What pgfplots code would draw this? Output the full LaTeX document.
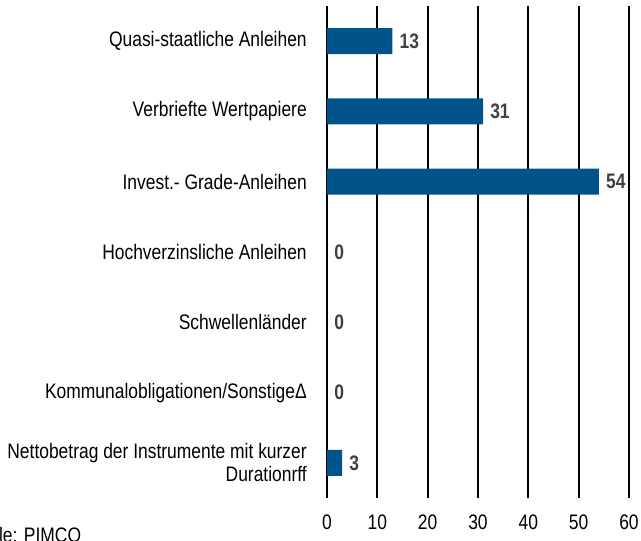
\documentclass[border=0pt]{standalone}
\usepackage{fontspec}
\setmainfont[FakeStretch=0.83]{Liberation Sans}
\usepackage{pgfplots}
\pgfplotsset{compat=1.18}
\definecolor{barblue}{HTML}{00548A}
\definecolor{valgray}{HTML}{404040}
\newcommand{\fs}{\fontsize{15.75}{17.25}\selectfont}
\begin{document}
\fs
\begin{tikzpicture}
\begin{axis}[
  at={(0,0)}, anchor=south west,
  scale only axis,
  width=226.5pt, height=369pt,
  xmin=0, xmax=60, ymin=-0.5, ymax=6.5,
  y dir=reverse,
  axis line style={draw=none},
  xtick={0,10,...,60},
  ytick={0,...,6},
  yticklabels={Quasi-staatliche Anleihen, Verbriefte Wertpapiere, Invest.- Grade-Anleihen, Hochverzinsliche Anleihen, Schwellenländer, Kommunalobligationen/SonstigeΔ, {Nettobetrag der Instrumente mit kurzer\\Durationrff}},
  major tick length=0pt,
  tick style={draw=none},
  xmajorgrids,
  grid style={black, line width=1.4pt},
  /pgf/number format/assume math mode=true,
  xticklabel style={font=\fs, inner sep=0pt, anchor=north, yshift=-12.75pt},
  yticklabel style={font=\fs, align=right, inner sep=0pt, anchor=east, xshift=-15pt},
  xbar, bar width=19.5pt,
  nodes near coords,
  every node near coord/.append style={font=\fs\bfseries, text=valgray, inner sep=0pt, anchor=west, xshift=5.25pt},
  clip=false,
]
\addplot[fill=barblue, draw=none] coordinates {(13,0) (31,1) (54,2) (0,3) (0,4) (0,5) (3,6)};
\end{axis}
\node[anchor=base west, inner sep=0pt] at (-273.75pt,-33pt) {Quelle: PIMCO};
\pgfresetboundingbox
\useasboundingbox (-245.25pt,-31.5pt) rectangle (235.5pt,373.5pt);
\end{tikzpicture}
\end{document}
